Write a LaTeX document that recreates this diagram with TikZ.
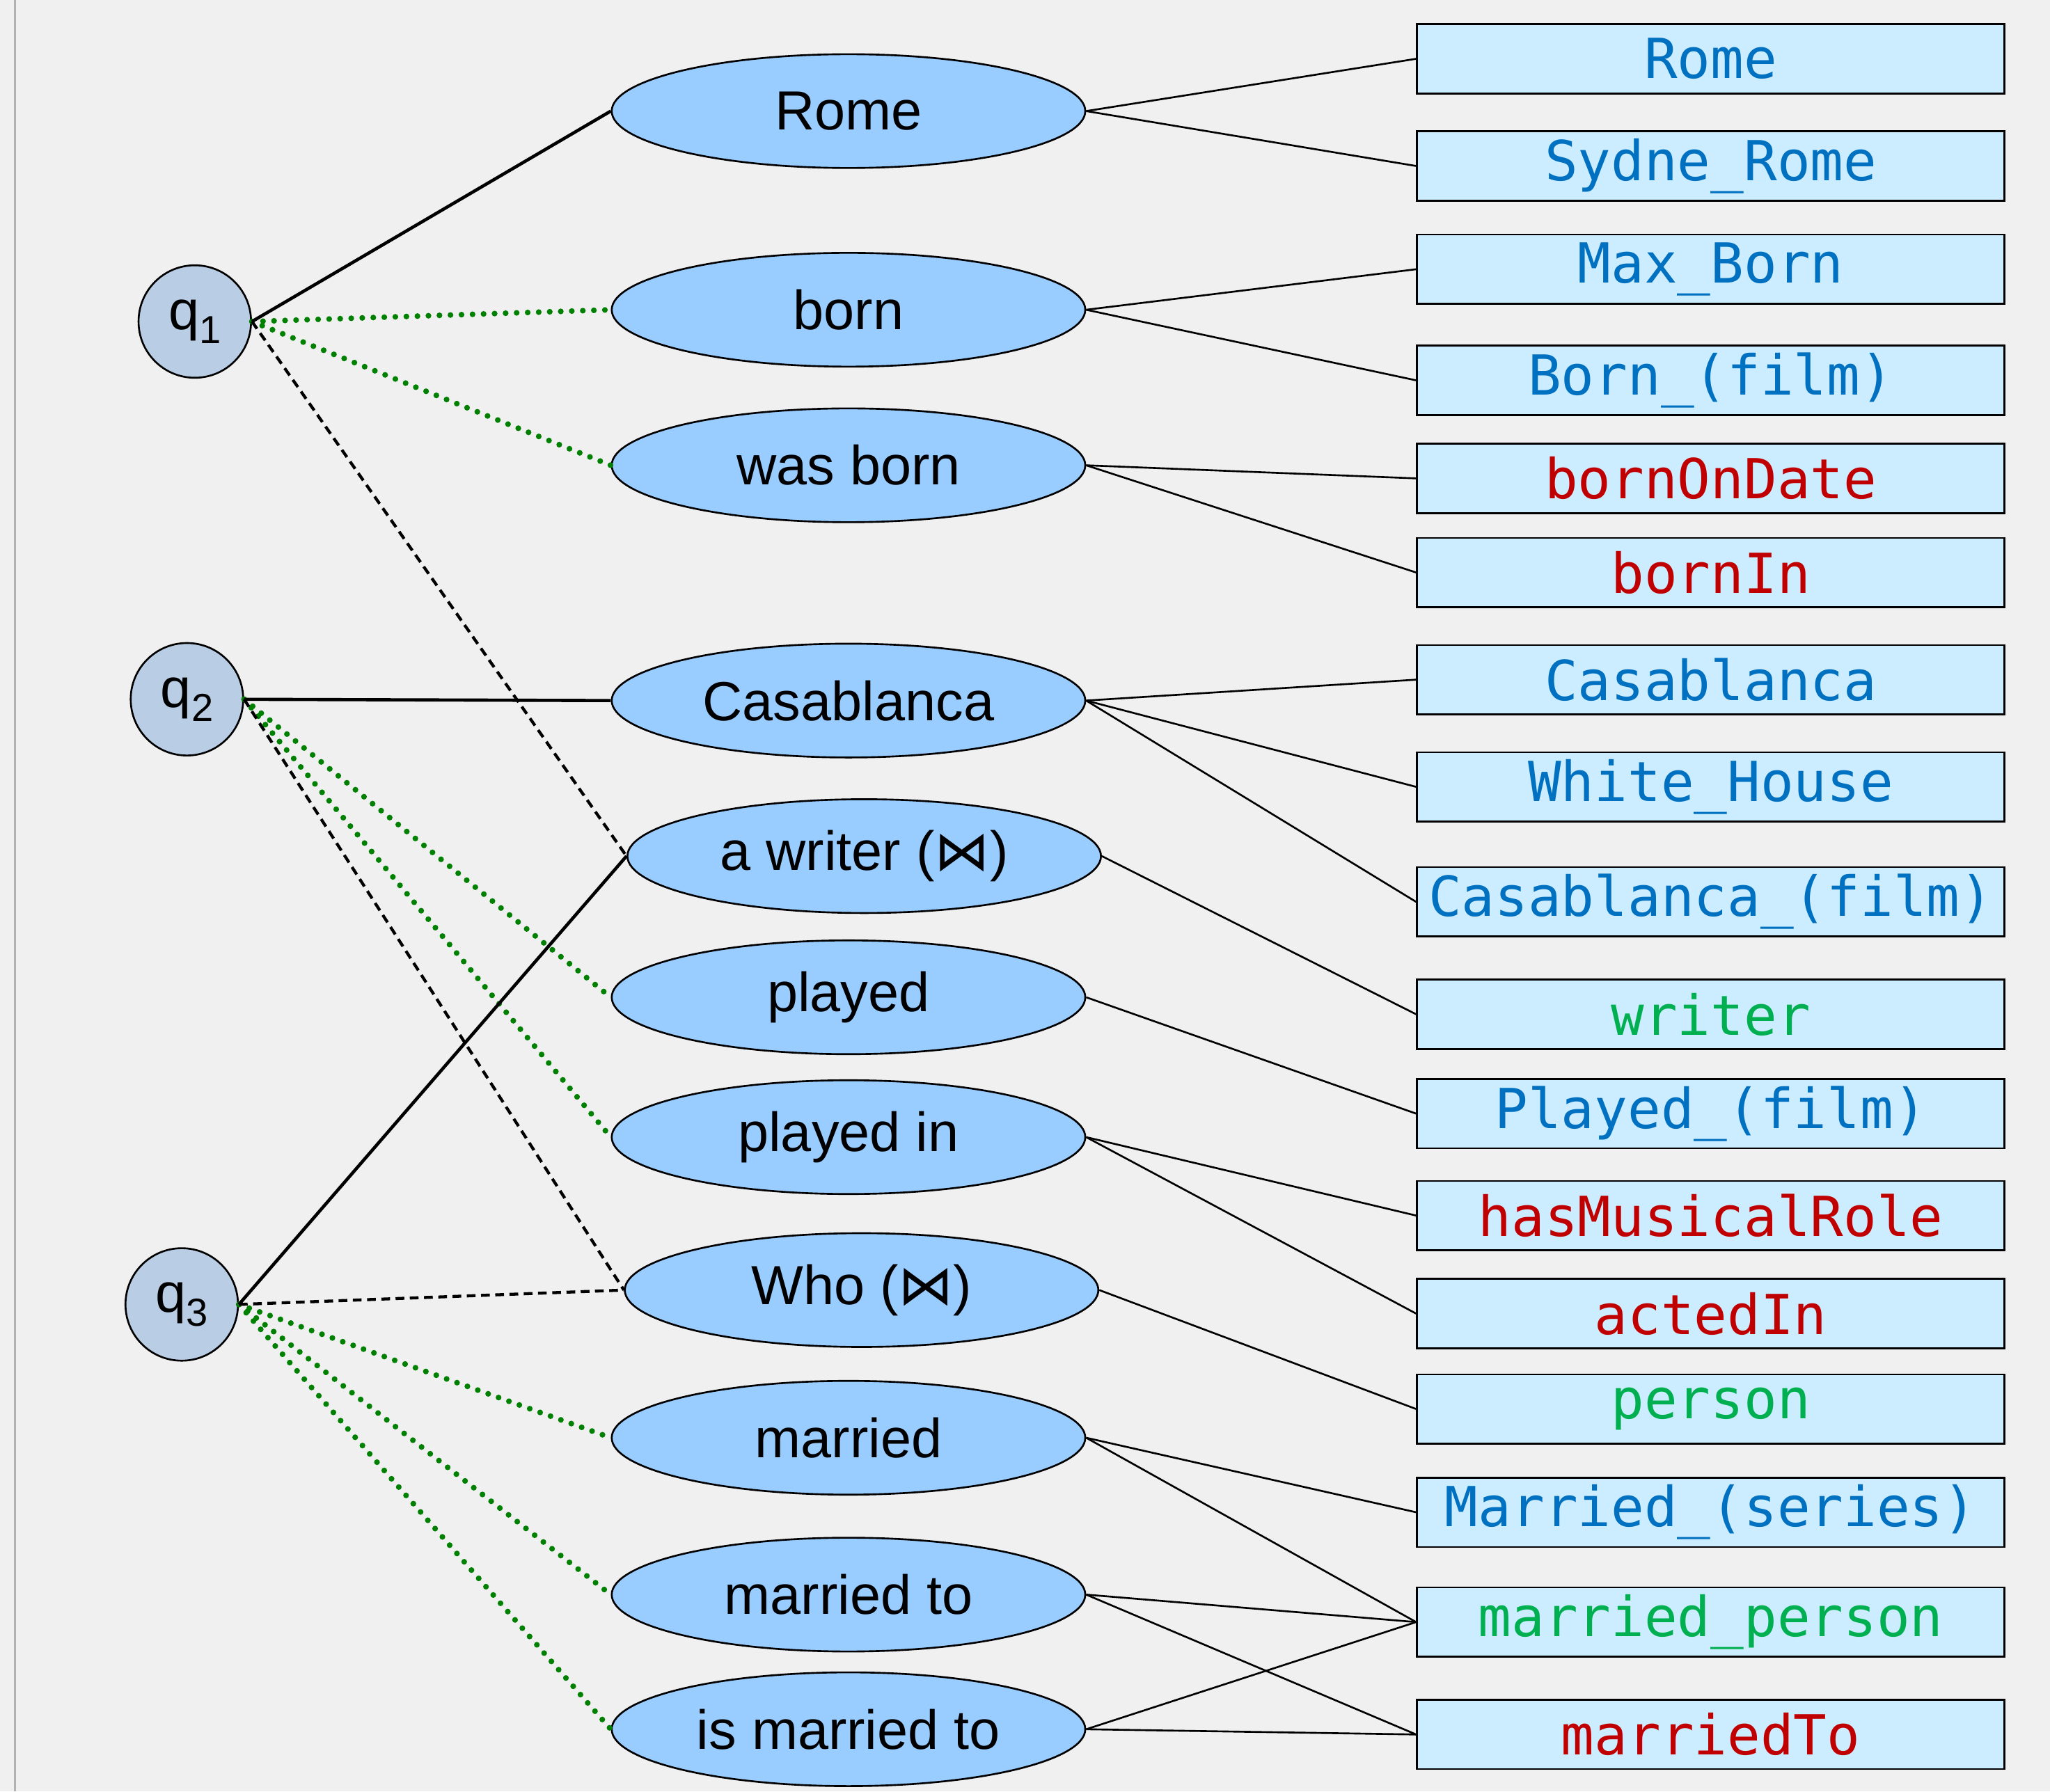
\documentclass[tikz,border=0pt]{standalone}
\usepackage{fontspec}
\setmainfont{Liberation Sans}
\newfontfamily\kbfont{DejaVu Sans Mono}
\newfontfamily\joinfont{DejaVu Sans}
\usepackage{tikz}
\usetikzlibrary{shapes.geometric,positioning}
\definecolor{Canvas}{HTML}{F0F0F0}
\definecolor{QueryFill}{HTML}{B9CDE5}
\definecolor{PhraseFill}{HTML}{99CCFF}
\definecolor{ItemFill}{HTML}{CCECFF}
\definecolor{Entity}{HTML}{0070C0}
\definecolor{Relation}{HTML}{C00000}
\definecolor{Class}{HTML}{00B050}
\definecolor{Link}{HTML}{008000}
\newcommand{\qlabel}[1]{q\raisebox{-3pt}{\fontsize{8.5}{9}\selectfont #1}}

\begin{document}
\begin{tikzpicture}[x=0.01cm,y=-0.01cm,font=\fontsize{12}{14}\selectfont,
  qnode/.style={draw,circle,fill=QueryFill,minimum size=0.86cm,inner sep=0pt},
  phrase/.style={draw,ellipse,fill=PhraseFill,minimum width=3.62cm,minimum height=0.87cm,inner sep=0pt},
  item/.style={draw,rectangle,fill=ItemFill,minimum width=4.49cm,minimum height=0.53cm,inner sep=0pt,
    font=\kbfont\fontsize{12}{14}\selectfont},
  match/.style={line width=0.7pt},
  joinedge/.style={line width=0.65pt,dash pattern=on 1.9pt off 1.2pt},
  para/.style={Link,line width=1.25pt,line cap=round,dash pattern=on 0pt off 2.4pt},
  kb/.style={line width=0.4pt}]
  \useasboundingbox (0,0) rectangle (1568,1370.5);
  \fill[Canvas] (0,0) rectangle (1568,1370.5);
  \draw[gray!60,line width=0.5pt] (11.5,0) -- (11.5,1370.5);
  % query words
  \node[qnode] (q1) at (149,246) {\qlabel{1}};
  \node[qnode] (q2) at (143,535) {\qlabel{2}};
  \node[qnode] (q3) at (139,998) {\qlabel{3}};
  % phrases
  \node[phrase] (rome) at (649,85) {Rome};
  \node[phrase] (born) at (649,237) {born};
  \node[phrase] (wasborn) at (649,356) {was born};
  \node[phrase] (casa) at (649,536) {Casablanca};
  \node[phrase] (writer) at (661,655) {a writer ({\joinfont ⋈})};
  \node[phrase] (played) at (649,763) {played};
  \node[phrase] (playedin) at (649,870) {played in};
  \node[phrase] (who) at (659,987) {Who ({\joinfont ⋈})};
  \node[phrase] (married) at (649,1100) {married};
  \node[phrase] (marriedto) at (649,1220) {married to};
  \node[phrase] (ismarriedto) at (649,1323) {is married to};
  % candidate items
  \node[item,text=Entity] (kRome) at (1308.5,45) {Rome};
  \node[item,text=Entity] (kSydne) at (1308.5,127) {Sydne\_Rome};
  \node[item,text=Entity] (kMax) at (1308.5,206) {Max\_Born};
  \node[item,text=Entity] (kBornFilm) at (1308.5,291) {Born\_(film)};
  \node[item,text=Relation] (kOnDate) at (1308.5,366) {bornOnDate};
  \node[item,text=Relation] (kBornIn) at (1308.5,438) {bornIn};
  \node[item,text=Entity] (kCasa) at (1308.5,520) {Casablanca};
  \node[item,text=Entity] (kWhite) at (1308.5,602) {White\_House};
  \node[item,text=Entity] (kCasaFilm) at (1308.5,690) {Casablanca\_(film)};
  \node[item,text=Class] (kWriter) at (1308.5,776) {writer};
  \node[item,text=Entity] (kPlayed) at (1308.5,852) {Played\_(film)};
  \node[item,text=Relation] (kMusical) at (1308.5,930) {hasMusicalRole};
  \node[item,text=Relation] (kActed) at (1308.5,1005) {actedIn};
  \node[item,text=Class] (kPerson) at (1308.5,1078) {person};
  \node[item,text=Entity] (kSeries) at (1308.5,1157) {Married\_(series)};
  \node[item,text=Class] (kMPerson) at (1308.5,1241) {married\_person};
  \node[item,text=Relation] (kMTo) at (1308.5,1327) {marriedTo};
  % phrase -> item
  \draw[kb](rome.east)--(kRome.west);\draw[kb](rome.east)--(kSydne.west);
  \draw[kb](born.east)--(kMax.west);\draw[kb](born.east)--(kBornFilm.west);
  \draw[kb](wasborn.east)--(kOnDate.west);\draw[kb](wasborn.east)--(kBornIn.west);
  \draw[kb](casa.east)--(kCasa.west);\draw[kb](casa.east)--(kWhite.west);\draw[kb](casa.east)--(kCasaFilm.west);
  \draw[kb](writer.east)--(kWriter.west);
  \draw[kb](played.east)--(kPlayed.west);
  \draw[kb](playedin.east)--(kMusical.west);\draw[kb](playedin.east)--(kActed.west);
  \draw[kb](who.east)--(kPerson.west);
  \draw[kb](married.east)--(kSeries.west);\draw[kb](married.east)--(kMPerson.west);
  \draw[kb](marriedto.east)--(kMPerson.west);\draw[kb](marriedto.east)--(kMTo.west);
  \draw[kb](ismarriedto.east)--(kMPerson.west);\draw[kb](ismarriedto.east)--(kMTo.west);
  % query -> phrase
  \draw[para](q1.east)--(born.west);\draw[para](q1.east)--(wasborn.west);
  \draw[para](q2.east)--(played.west);\draw[para](q2.east)--(playedin.west);
  \draw[para](q3.east)--(married.west);\draw[para](q3.east)--(marriedto.west);\draw[para](q3.east)--(ismarriedto.west);
  \draw[joinedge](q1.east)--(writer.west);\draw[joinedge](q2.east)--(who.west);\draw[joinedge](q3.east)--(who.west);
  \draw[match](q1.east)--(rome.west);\draw[match](q2.east)--(casa.west);\draw[match](q3.east)--(writer.west);
\end{tikzpicture}
\end{document}
